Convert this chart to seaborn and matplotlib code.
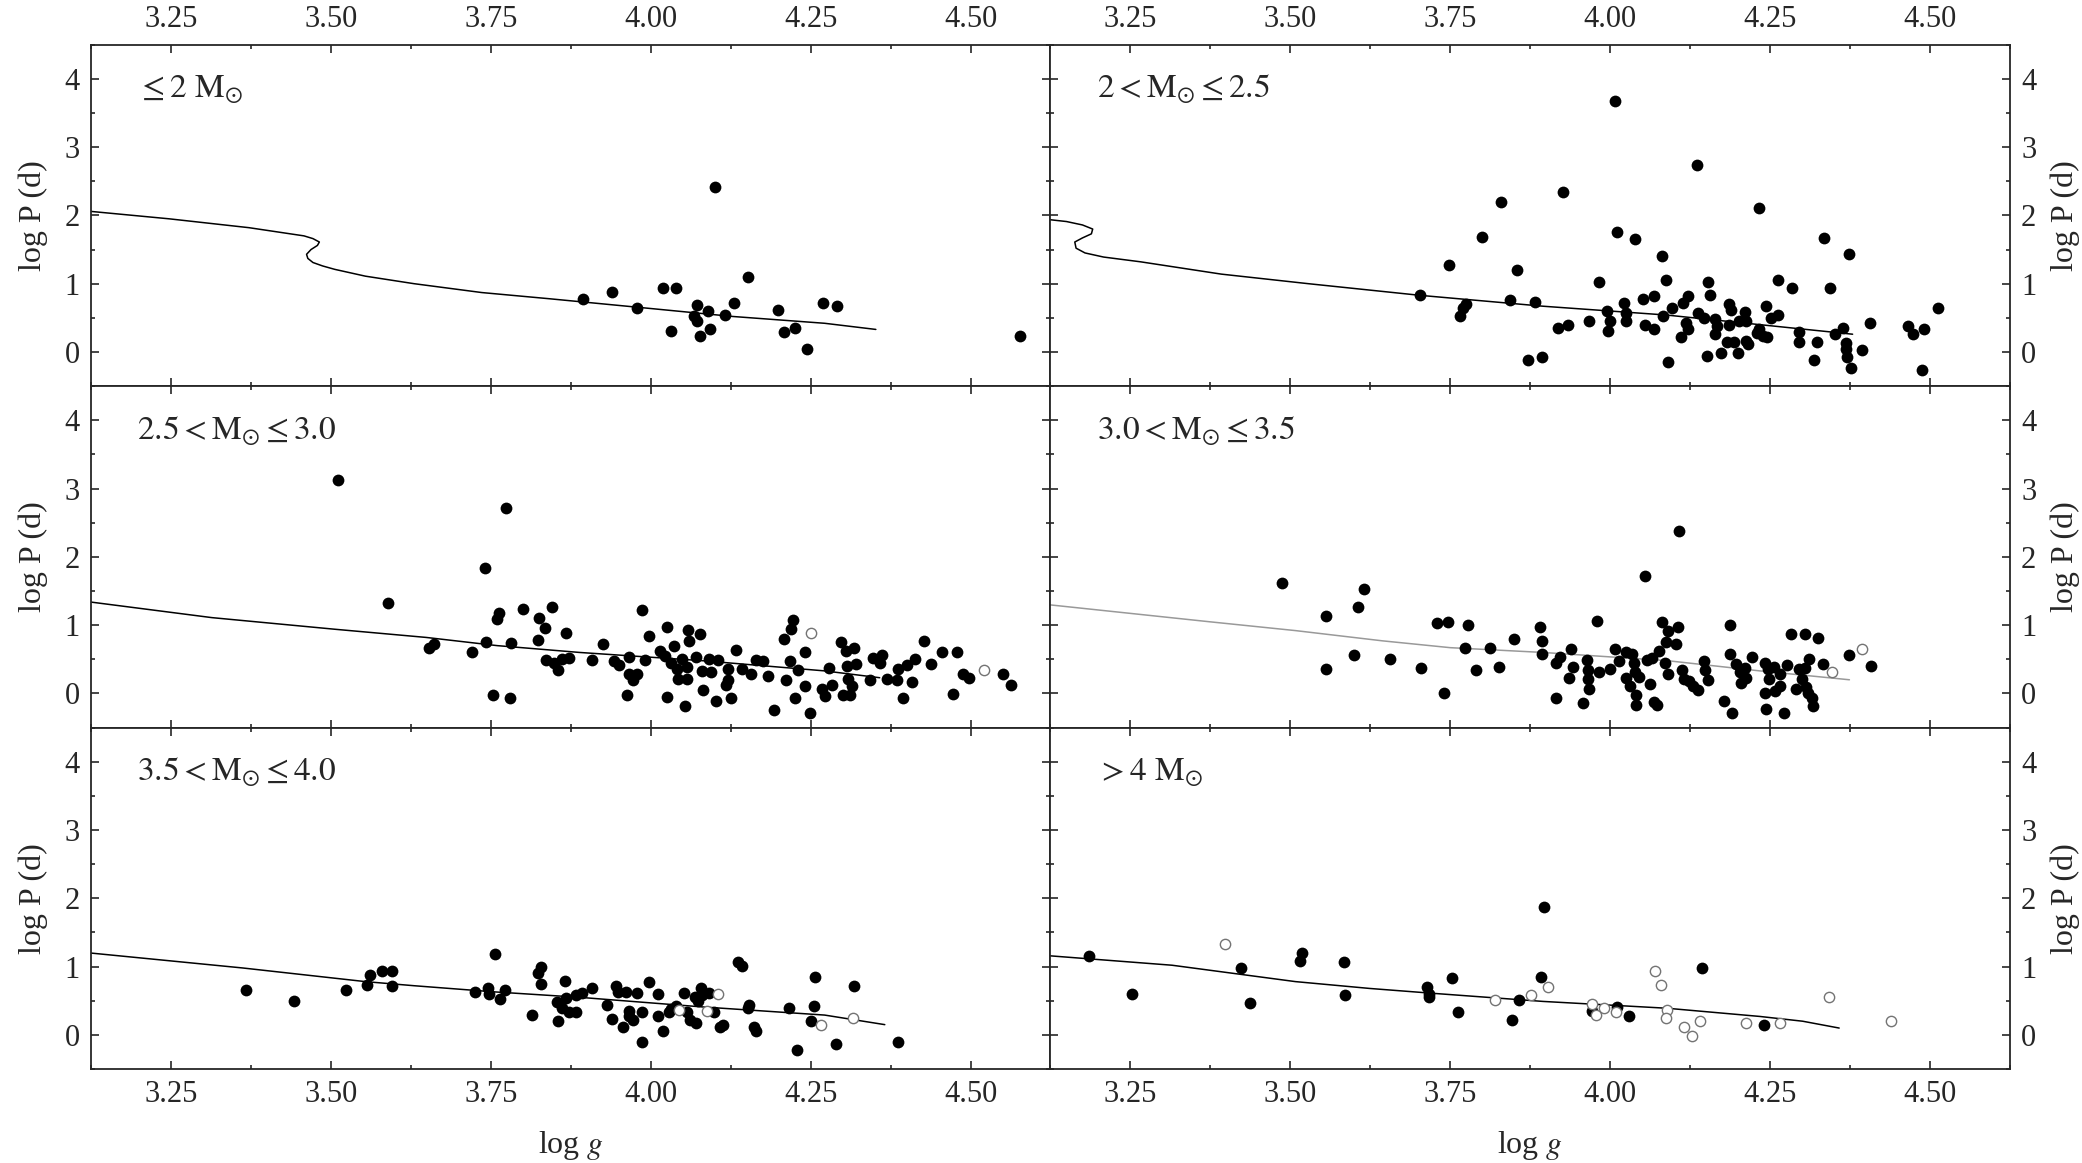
import numpy as np
import pandas as pd
import matplotlib
matplotlib.use('Agg')
import matplotlib.pyplot as plt
from matplotlib.ticker import MultipleLocator
import seaborn as sns

# ---- panel labels ----
labels = [r'$\leq 2\ \mathrm{M}_{\odot}$',
          r'$2 < \mathrm{M}_{\odot} \leq 2.5$',
          r'$2.5 < \mathrm{M}_{\odot} \leq 3.0$',
          r'$3.0 < \mathrm{M}_{\odot} \leq 3.5$',
          r'$3.5 < \mathrm{M}_{\odot} \leq 4.0$',
          r'$> 4\ \mathrm{M}_{\odot}$']

# ---- panel 1: <= 2 Msun ----
p1_g = [3.894, 3.940, 3.978, 4.020, 4.040, 4.101, 4.073, 4.068, 4.073, 4.090, 4.093, 4.077,
        4.032, 4.116, 4.130, 4.152, 4.199, 4.208, 4.225, 4.245, 4.269, 4.291, 4.577]
p1_p = [0.78, 0.88, 0.64, 0.94, 0.93, 2.42, 0.69, 0.53, 0.45, 0.60, 0.34, 0.24,
        0.30, 0.54, 0.71, 1.10, 0.62, 0.29, 0.35, 0.04, 0.71, 0.68, 0.23]
p1_og, p1_op = [], []
t1_g = [3.123, 3.247, 3.372, 3.458, 3.472, 3.482, 3.479, 3.469, 3.462, 3.464, 3.472, 3.487,
        3.506, 3.554, 3.630, 3.736, 3.841, 3.985, 4.128, 4.272, 4.352]
t1_p = [2.06, 1.95, 1.82, 1.70, 1.66, 1.61, 1.56, 1.50, 1.43, 1.37, 1.31, 1.26,
        1.21, 1.11, 1.00, 0.87, 0.78, 0.65, 0.52, 0.42, 0.33]

# ---- panel 2: 2 < M <= 2.5 ----
p2_g = [4.007, 4.136, 3.926, 3.829, 4.232, 4.011, 4.039, 3.799, 4.334, 4.373, 4.081, 3.748,
        3.855, 3.982, 4.087, 4.153, 4.263, 4.284, 4.343, 3.702, 3.774, 3.770, 3.766, 3.843,
        3.883, 3.871, 3.893, 3.919, 3.934, 3.967, 3.995, 3.999, 3.997, 4.021, 4.025, 4.025,
        4.052, 4.055, 4.069, 4.069, 4.082, 4.096, 4.091, 4.110, 4.114, 4.122, 4.118, 4.122,
        4.137, 4.147, 4.156, 4.152, 4.164, 4.167, 4.164, 4.173, 4.182, 4.186, 4.186, 4.189,
        4.193, 4.200, 4.201, 4.210, 4.213, 4.213, 4.216, 4.229, 4.232, 4.239, 4.245, 4.243,
        4.251, 4.263, 4.295, 4.295, 4.318, 4.324, 4.352, 4.364, 4.369, 4.369, 4.371, 4.377,
        4.393, 4.406, 4.466, 4.473, 4.491, 4.488, 4.512]
p2_p = [3.68, 2.74, 2.34, 2.20, 2.11, 1.75, 1.65, 1.68, 1.67, 1.43, 1.40, 1.28,
        1.20, 1.02, 1.05, 1.03, 1.06, 0.93, 0.94, 0.84, 0.70, 0.65, 0.52, 0.76,
        0.73, -0.12, -0.08, 0.35, 0.39, 0.45, 0.60, 0.45, 0.31, 0.71, 0.57, 0.45,
        0.77, 0.40, 0.82, 0.33, 0.53, 0.65, -0.15, 0.22, 0.71, 0.82, 0.43, 0.33,
        0.57, 0.50, 0.83, -0.06, 0.48, 0.38, 0.26, -0.02, 0.14, 0.40, 0.70, 0.62,
        0.15, -0.02, 0.45, 0.58, 0.45, 0.16, 0.11, 0.28, 0.33, 0.23, 0.22, 0.67,
        0.50, 0.54, 0.29, 0.15, -0.12, 0.15, 0.27, 0.35, 0.13, 0.04, -0.08, -0.23,
        0.03, 0.42, 0.38, 0.27, 0.34, -0.26, 0.65]
p2_og, p2_op = [], []
t2_g = [3.121, 3.150, 3.175, 3.191, 3.189, 3.175, 3.163, 3.165, 3.179, 3.208, 3.266, 3.392,
        3.528, 3.702, 3.895, 4.089, 4.234, 4.379]
t2_p = [1.94, 1.91, 1.86, 1.80, 1.73, 1.67, 1.61, 1.52, 1.45, 1.39, 1.32, 1.14,
        1.00, 0.83, 0.67, 0.54, 0.40, 0.26]

# ---- panel 3: 2.5 < M <= 3.0 ----
p3_g = [3.511, 3.774, 3.741, 3.590, 3.654, 3.661, 3.721, 3.742, 3.759, 3.763, 3.753, 3.780,
        3.782, 3.801, 3.826, 3.835, 3.846, 3.824, 3.868, 3.837, 3.849, 3.855, 3.862, 3.872,
        3.908, 3.925, 3.943, 3.951, 3.966, 3.963, 3.966, 3.973, 3.978, 3.987, 3.991, 3.997,
        4.015, 4.023, 4.026, 4.025, 4.032, 4.037, 4.041, 4.043, 4.049, 4.053, 4.056, 4.058,
        4.060, 4.057, 4.071, 4.077, 4.080, 4.082, 4.091, 4.095, 4.102, 4.106, 4.117, 4.121,
        4.121, 4.125, 4.134, 4.143, 4.157, 4.165, 4.176, 4.183, 4.192, 4.208, 4.218, 4.220,
        4.222, 4.212, 4.225, 4.230, 4.242, 4.241, 4.249, 4.268, 4.273, 4.278, 4.283, 4.298,
        4.300, 4.305, 4.307, 4.309, 4.312, 4.314, 4.318, 4.321, 4.343, 4.348, 4.359, 4.362,
        4.370, 4.385, 4.387, 4.395, 4.401, 4.408, 4.413, 4.428, 4.439, 4.456, 4.473, 4.479,
        4.488, 4.497, 4.551, 4.564]
p3_p = [3.13, 2.71, 1.84, 1.32, 0.67, 0.72, 0.61, 0.76, 1.09, 1.18, -0.02, -0.07,
        0.74, 1.23, 1.11, 0.96, 1.27, 0.78, 0.89, 0.49, 0.45, 0.35, 0.50, 0.52,
        0.49, 0.73, 0.48, 0.41, 0.54, -0.02, 0.29, 0.19, 0.28, 1.22, 0.49, 0.84,
        0.62, 0.55, 0.98, -0.05, 0.45, 0.70, 0.36, 0.21, 0.51, -0.18, 0.38, 0.93,
        0.77, 0.21, 0.53, 0.87, 0.33, 0.05, 0.50, 0.32, -0.11, 0.49, 0.12, 0.36,
        0.19, -0.06, 0.64, 0.36, 0.28, 0.49, 0.48, 0.25, -0.25, 0.80, 0.47, 0.94,
        1.07, 0.19, -0.06, 0.34, 0.60, 0.11, -0.29, 0.06, -0.04, 0.37, 0.12, 0.75,
        -0.03, 0.62, 0.40, 0.21, -0.02, 0.11, 0.67, 0.43, 0.20, 0.52, 0.44, 0.57,
        0.21, 0.20, 0.36, -0.06, 0.41, 0.17, 0.50, 0.77, 0.43, 0.61, -0.01, 0.61,
        0.28, 0.23, 0.28, 0.13]
p3_og = [4.251, 4.521]
p3_op = [0.89, 0.34]
t3_g = [3.123, 3.314, 3.506, 3.649, 3.760, 3.889, 4.080, 4.272, 4.358]
t3_p = [1.34, 1.11, 0.94, 0.82, 0.70, 0.60, 0.48, 0.33, 0.23]

# ---- panel 4: 3.0 < M <= 3.5 ----
p4_g = [3.487, 3.555, 3.555, 3.606, 3.615, 3.599, 3.656, 3.705, 3.740, 3.730, 3.747, 3.778,
        3.773, 3.791, 3.812, 3.826, 3.850, 3.891, 3.893, 3.893, 3.915, 3.915, 3.922, 3.936,
        3.939, 3.942, 3.957, 3.963, 3.965, 3.965, 3.967, 3.979, 3.982, 3.999, 4.008, 4.014,
        4.025, 4.024, 4.031, 4.034, 4.038, 4.039, 4.040, 4.040, 4.045, 4.055, 4.057, 4.063,
        4.066, 4.068, 4.073, 4.076, 4.081, 4.086, 4.090, 4.088, 4.091, 4.103, 4.106, 4.107,
        4.112, 4.116, 4.124, 4.129, 4.138, 4.146, 4.149, 4.153, 4.178, 4.187, 4.188, 4.191,
        4.196, 4.203, 4.205, 4.211, 4.213, 4.222, 4.242, 4.242, 4.244, 4.247, 4.249, 4.256,
        4.258, 4.265, 4.266, 4.271, 4.277, 4.283, 4.290, 4.295, 4.300, 4.304, 4.305, 4.306,
        4.309, 4.311, 4.316, 4.317, 4.325, 4.333, 4.374, 4.408]
p4_p = [1.61, 1.14, 0.36, 1.26, 1.53, 0.57, 0.51, 0.37, 0.01, 1.03, 1.05, 1.00,
        0.67, 0.34, 0.67, 0.39, 0.79, 0.97, 0.77, 0.58, -0.07, 0.45, 0.54, 0.22,
        0.65, 0.38, -0.14, 0.49, 0.34, 0.21, 0.07, 1.06, 0.32, 0.36, 0.65, 0.48,
        0.60, 0.23, 0.11, 0.58, 0.45, 0.32, -0.03, -0.17, 0.24, 1.72, 0.49, 0.14,
        0.52, -0.13, -0.17, 0.62, 1.04, 0.45, 0.92, 0.75, 0.28, 0.73, 0.98, 2.38,
        0.34, 0.21, 0.18, 0.11, 0.05, 0.47, 0.34, 0.19, -0.11, 0.58, 1.00, -0.28,
        0.43, 0.32, 0.16, 0.37, 0.23, 0.53, 0.44, 0.01, -0.23, 0.36, 0.21, 0.39,
        0.03, 0.11, 0.29, -0.28, 0.41, 0.87, 0.06, 0.36, 0.21, 0.37, 0.87, 0.09,
        0.00, 0.50, -0.06, -0.19, 0.81, 0.43, 0.57, 0.40]
p4_og = [4.347, 4.394]
p4_op = [0.31, 0.65]
t4_g = [3.121, 3.373, 3.508, 3.644, 3.750, 3.895, 4.089, 4.234, 4.374]
t4_p = [1.30, 1.05, 0.92, 0.77, 0.67, 0.60, 0.48, 0.33, 0.20]

# ---- panel 5: 3.5 < M <= 4.0 ----
p5_g = [3.368, 3.443, 3.523, 3.556, 3.561, 3.580, 3.595, 3.595, 3.726, 3.746, 3.747, 3.756,
        3.764, 3.772, 3.815, 3.824, 3.829, 3.829, 3.853, 3.855, 3.861, 3.866, 3.867, 3.872,
        3.883, 3.883, 3.892, 3.908, 3.932, 3.940, 3.945, 3.949, 3.957, 3.961, 3.966, 3.966,
        3.973, 3.978, 3.986, 3.986, 3.998, 4.012, 4.012, 4.019, 4.028, 4.031, 4.040, 4.052,
        4.057, 4.061, 4.069, 4.071, 4.074, 4.079, 4.080, 4.091, 4.099, 4.109, 4.113, 4.137,
        4.142, 4.152, 4.154, 4.162, 4.165, 4.216, 4.229, 4.251, 4.256, 4.257, 4.290, 4.318,
        4.387]
p5_p = [0.65, 0.50, 0.65, 0.73, 0.87, 0.94, 0.93, 0.72, 0.63, 0.69, 0.60, 1.18,
        0.53, 0.65, 0.29, 0.90, 1.00, 0.75, 0.48, 0.20, 0.39, 0.79, 0.54, 0.33,
        0.34, 0.58, 0.62, 0.68, 0.44, 0.23, 0.72, 0.63, 0.12, 0.63, 0.35, 0.27,
        0.22, 0.62, 0.33, -0.11, 0.77, 0.60, 0.27, 0.05, 0.34, 0.38, 0.43, 0.61,
        0.33, 0.22, 0.55, 0.18, 0.49, 0.69, 0.59, 0.61, 0.34, 0.12, 0.15, 1.06,
        1.01, 0.39, 0.44, 0.12, 0.05, 0.39, -0.22, 0.20, 0.42, 0.85, -0.14, 0.71,
        -0.10]
p5_og = [4.045, 4.088, 4.106, 4.266, 4.316]
p5_op = [0.37, 0.35, 0.60, 0.15, 0.25]
t5_g = [3.123, 3.362, 3.554, 3.630, 3.755, 3.889, 4.080, 4.272, 4.366]
t5_p = [1.20, 0.98, 0.78, 0.72, 0.63, 0.55, 0.41, 0.29, 0.15]

# ---- panel 6: > 4 Msun ----
p6_g = [3.186, 3.253, 3.423, 3.437, 3.515, 3.519, 3.584, 3.586, 3.713, 3.716, 3.717, 3.753,
        3.762, 3.846, 3.857, 3.892, 3.896, 3.971, 4.011, 4.030, 4.144, 4.240]
p6_p = [1.16, 0.60, 0.98, 0.46, 1.08, 1.20, 1.06, 0.58, 0.70, 0.56, 0.60, 0.83,
        0.34, 0.22, 0.51, 0.85, 1.87, 0.35, 0.41, 0.27, 0.98, 0.14]
p6_og = [3.398, 3.820, 3.877, 3.903, 3.971, 3.978, 3.991, 4.009, 4.070, 4.080, 4.089, 4.088,
         4.115, 4.128, 4.141, 4.212, 4.265, 4.342, 4.439]
p6_op = [1.33, 0.51, 0.59, 0.70, 0.45, 0.29, 0.39, 0.33, 0.94, 0.73, 0.36, 0.25,
         0.11, -0.01, 0.21, 0.17, 0.17, 0.56, 0.20]
t6_g = [3.121, 3.315, 3.508, 3.624, 3.721, 3.895, 4.089, 4.234, 4.301, 4.358]
t6_p = [1.16, 1.02, 0.78, 0.68, 0.61, 0.49, 0.39, 0.27, 0.20, 0.10]

panels = [(p1_g, p1_p, p1_og, p1_op, t1_g, t1_p),
          (p2_g, p2_p, p2_og, p2_op, t2_g, t2_p),
          (p3_g, p3_p, p3_og, p3_op, t3_g, t3_p),
          (p4_g, p4_p, p4_og, p4_op, t4_g, t4_p),
          (p5_g, p5_p, p5_og, p5_op, t5_g, t5_p),
          (p6_g, p6_p, p6_og, p6_op, t6_g, t6_p)]
# track colour per panel (panel 4 is drawn in light grey)
track_col = ['black', 'black', 'black', '0.6', 'black', 'black']

sns.set_style('ticks')
plt.rcParams['font.family'] = 'serif'
plt.rcParams['font.serif'] = ['Liberation Serif', 'DejaVu Serif']
plt.rcParams['mathtext.fontset'] = 'stix'
plt.rcParams['axes.linewidth'] = 1.3

fig, axes = plt.subplots(3, 2, figsize=(20.82, 11.63), dpi=100, sharex=True)
fig.subplots_adjust(left=0.0437, right=0.9654, top=0.9616, bottom=0.0808, wspace=0, hspace=0)

for i, ax in enumerate(axes.flat):
    g, p, og, op, tg, tp = panels[i]
    row, col = divmod(i, 2)
    track = pd.DataFrame({'logg': tg, 'logp': tp})
    sns.lineplot(data=track, x='logg', y='logp', sort=False, estimator=None,
                 color=track_col[i], lw=1.1, ax=ax)
    pts = pd.DataFrame({'logg': g, 'logp': p})
    sns.scatterplot(data=pts, x='logg', y='logp', s=72, color='black',
                    edgecolor='black', linewidth=0, ax=ax, zorder=3)
    if len(og):
        opn = pd.DataFrame({'logg': og, 'logp': op})
        sns.scatterplot(data=opn, x='logg', y='logp', s=55, facecolor='white',
                        edgecolor='0.45', linewidth=1.0, ax=ax, zorder=3)

    ax.set_xlim(3.125, 4.625)
    ax.set_ylim(-0.5, 4.5)
    ax.xaxis.set_major_locator(MultipleLocator(0.25))
    ax.xaxis.set_minor_locator(MultipleLocator(0.125))
    ax.yaxis.set_major_locator(MultipleLocator(1))
    ax.yaxis.set_minor_locator(MultipleLocator(0.5))
    ax.tick_params(which='both', direction='in', top=True, right=True, bottom=True, left=True,
                   labelsize=22, width=1.2)
    ax.tick_params(which='major', length=6)
    ax.tick_params(which='minor', length=3)
    ax.xaxis.set_major_formatter(plt.FormatStrFormatter('%.2f'))

    ax.tick_params(labeltop=(row == 0), labelbottom=(row == 2), pad=8)
    if col == 0:
        ax.tick_params(labelleft=True, labelright=False)
        ax.set_ylabel('log P (d)', fontsize=23, labelpad=12)
    else:
        ax.tick_params(labelleft=False, labelright=True)
        ax.yaxis.set_label_position('right')
        ax.set_ylabel('log P (d)', fontsize=23, labelpad=10)
    if row == 2:
        ax.set_xlabel('log $g$', fontsize=23, labelpad=14)
    else:
        ax.set_xlabel('')

    ax.text(0.048, 0.845, labels[i], transform=ax.transAxes, fontsize=24,
            ha='left', va='baseline')

fig.savefig('out.png', dpi=100)
